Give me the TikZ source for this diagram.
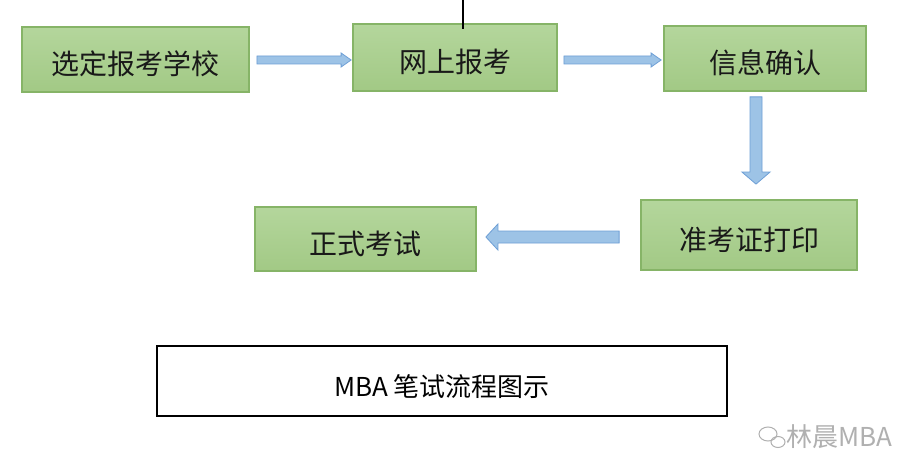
\documentclass[tikz,border=0pt]{standalone}
\usepackage{fontspec}
\setmainfont{Noto Sans CJK SC}
\newfontfamily\cjk{Noto Sans CJK SC}
\usetikzlibrary{calc}
\definecolor{boxfillA}{HTML}{B4D69C}
\definecolor{boxfillB}{HTML}{A2C985}
\definecolor{boxline}{HTML}{86B467}
\definecolor{arrfill}{HTML}{9DC3E6}
\definecolor{arrline}{HTML}{6E9FD6}
\definecolor{wmgray}{HTML}{B0B0B0}
\tikzset{
  stepbox/.style={draw=boxline, line width=1.8pt, top color=boxfillA, bottom color=boxfillB,
    minimum width=#1, inner sep=0pt, text height=31pt, text depth=0pt,
    font=\fontsize{28}{32}\selectfont\cjk, text=black!90},
  titlebox/.style={draw=black, line width=2.4pt, fill=white, minimum width=570pt, minimum height=70pt,
    inner sep=0pt, text height=30pt, text depth=0pt, font=\fontsize{26}{30}\selectfont\cjk},
  fatarrow/.style={fill=arrfill, draw=arrline, line width=0.8pt, line join=miter}
}
\begin{document}
\begin{tikzpicture}[x=1pt,y=-1pt]
\useasboundingbox (0,0) rectangle (924,476);
\fill[white] (0,0) rectangle (924,476);

\node[stepbox=227pt, minimum height=65pt] (b1) at (135.5,59.5) {选定报考学校};
\node[stepbox=204pt, minimum height=67pt] (b2) at (455,57.5) {网上报考};
\node[stepbox=202pt, minimum height=65pt] (b3) at (765,58.5) {信息确认};
\node[stepbox=216pt, minimum height=70pt] (b4) at (749,235) {准考证打印};
\node[stepbox=221pt, minimum height=64pt] (b5) at (365.5,239) {正式考试};
\node[titlebox] (t) at (442,381) {MBA 笔试流程图示};

% black line at top
\coordinate (top) at (463,0);
\draw[line width=1.6pt, black] (top) -- (top |- b2.north) -- ++(0,6);

% arrow b1 -> b2
\path[fatarrow] let \p1=($(b1.east)+(7,0.5)$), \p2=($(b2.west)+(-1,0)$) in
  (\x1,\y1+4pt) -- (\x2-10pt,\y1+4pt) -- (\x2-10pt,\y1+7pt) -- (\x2,\y1) --
  (\x2-10pt,\y1-7pt) -- (\x2-10pt,\y1-4pt) -- (\x1,\y1-4pt) -- cycle;
% arrow b2 -> b3
\path[fatarrow] let \p1=($(b2.east)+(6,2.5)$), \p2=($(b3.west)+(-2,0)$) in
  (\x1,\y1+4pt) -- (\x2-10pt,\y1+4pt) -- (\x2-10pt,\y1+7pt) -- (\x2,\y1) --
  (\x2-10pt,\y1-7pt) -- (\x2-10pt,\y1-4pt) -- (\x1,\y1-4pt) -- cycle;
% arrow b3 -> b4 (down)
\path[fatarrow] let \p1=($(b3.south)+(-9,5)$), \p2=($(b4.north)+(0,-15)$) in
  (\x1-6pt,\y1) -- (\x1-6pt,\y2+12pt) -- (\x1-14pt,\y2+12pt) -- (\x1,\y2) --
  (\x1+14pt,\y2+12pt) -- (\x1+6pt,\y2+12pt) -- (\x1+6pt,\y1) -- cycle;
% arrow b4 -> b5 (left)
\path[fatarrow] let \p1=($(b4.west)+(-21,2)$), \p2=($(b5.east)+(9,0)$) in
  (\x1,\y1+6pt) -- (\x2+12pt,\y1+6pt) -- (\x2+12pt,\y1+13pt) -- (\x2,\y1) --
  (\x2+12pt,\y1-13pt) -- (\x2+12pt,\y1-6pt) -- (\x1,\y1-6pt) -- cycle;

% watermark
\node[font=\fontsize{26}{28}\selectfont\cjk, text=wmgray, anchor=west, inner sep=0pt] (wm) at (786,437) {林晨MBA};
\draw[wmgray, line width=1pt] (768,434) ellipse (9pt and 7pt);
\draw[wmgray, line width=1pt] (778,442) ellipse (7pt and 5.5pt);
\end{tikzpicture}
\end{document}
